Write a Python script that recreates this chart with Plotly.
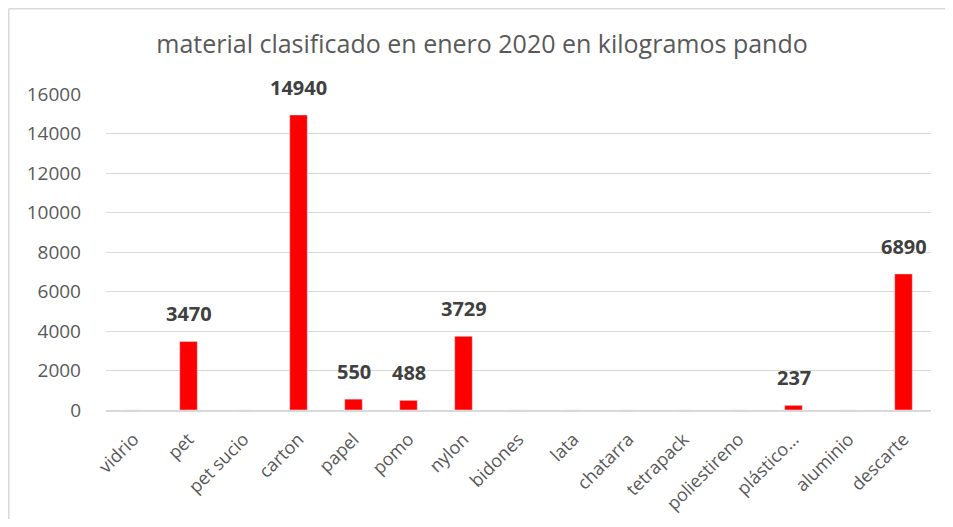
import plotly.graph_objects as go

categories = ["vidrio", "pet", "pet sucio", "carton", "papel", "pomo", "nylon", "bidones",
              "lata", "chatarra", "tetrapack", "poliestireno", "plástico…", "aluminio", "descarte"]
values = [0, 3470, 0, 14940, 550, 488, 3729, 0, 0, 0, 0, 0, 237, 0, 6890]
y_ticks = [0, 2000, 4000, 6000, 8000, 10000, 12000, 14000, 16000]

# page has an 8px body margin; figure coordinates are page minus 8
OFF = 8
W, H = 937, 511
ml, mt = 106 - OFF, 94 - OFF
pw, ph = 825, 316
mr, mb = W - ml - pw, H - mt - ph

fig = go.Figure()
fig.add_trace(go.Bar(x=categories, y=values, marker_color="#ff0000", width=0.32))

for c, v in zip(categories, values):
    if v > 0:
        fig.add_annotation(x=c, y=v, text="<b>%d</b>" % v, showarrow=False,
                           yanchor="bottom", yshift=12,
                           font=dict(family="Open Sans", size=20, color="#404040"))

# chart border (left and top edges visible in reference)
fig.add_shape(type="line", xref="paper", yref="paper",
              x0=(0.8 - ml) / pw, x1=(0.8 - ml) / pw, y0=-mb / ph, y1=(ph + mt - 0.8) / ph,
              line=dict(color="#d9d9d9", width=1.5), layer="below")
fig.add_shape(type="line", xref="paper", yref="paper",
              x0=(0.8 - ml) / pw, x1=(W - ml) / pw, y0=(ph + mt - 0.8) / ph, y1=(ph + mt - 0.8) / ph,
              line=dict(color="#d9d9d9", width=1.5), layer="below")

fig.update_layout(
    width=W, height=H,
    margin=dict(l=ml, r=mr, t=mt, b=mb),
    paper_bgcolor="white", plot_bgcolor="white",
    showlegend=False,
    title=dict(text="material clasificado en enero 2020 en kilogramos pando",
               xref="paper", x=(482 - 106) / pw, xanchor="center",
               yref="container", y=1 - (44 - OFF) / H, yanchor="middle",
               font=dict(family="Open Sans", size=25, color="#595959")),
    xaxis=dict(tickangle=-45, tickfont=dict(family="Open Sans", size=18, color="#595959"),
               showline=True, linecolor="#d9d9d9", linewidth=1.5, ticks="", automargin=False,
               ticklabelstandoff=10),
    yaxis=dict(range=[0, 16000], tickvals=y_ticks, ticktext=[str(t) for t in y_ticks],
               showgrid=True, gridcolor="#d9d9d9",
               gridwidth=1, zeroline=False, ticks="", ticklabelstandoff=24, automargin=False,
               tickfont=dict(family="Open Sans", size=19, color="#595959")),
)

fig.write_html("out.html")
